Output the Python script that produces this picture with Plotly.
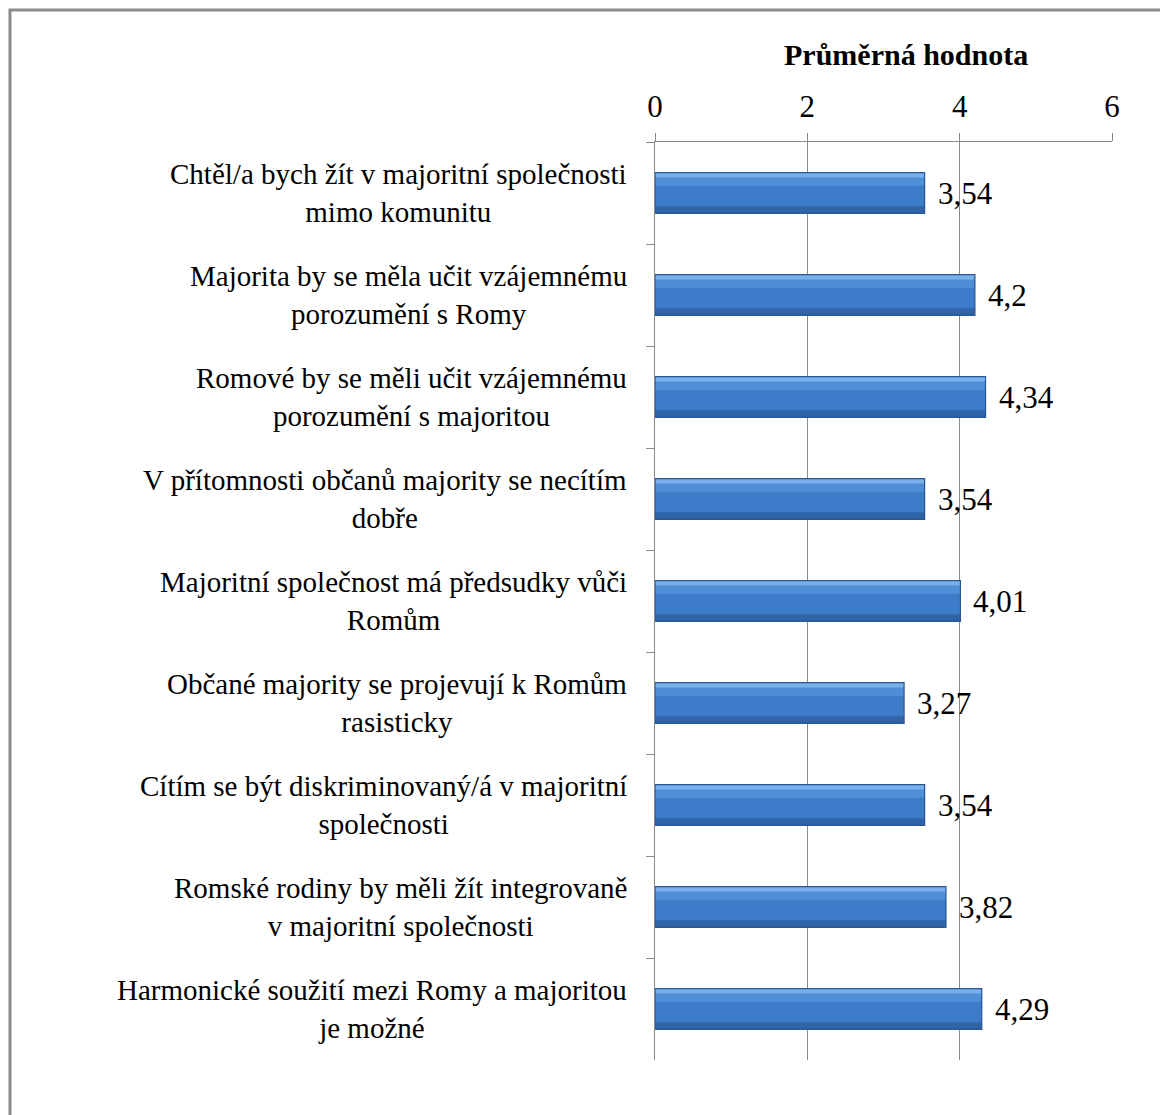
import plotly.graph_objects as go

categories = [
    "Chtěl/a bych žít v majoritní společnosti<br>mimo komunitu",
    "Majorita by se měla učit vzájemnému<br>porozumění s Romy",
    "Romové by se měli učit vzájemnému<br>porozumění s majoritou",
    "V přítomnosti občanů majority se necítím<br>dobře",
    "Majoritní společnost má předsudky vůči<br>Romům",
    "Občané majority se projevují k Romům<br>rasisticky",
    "Cítím se být diskriminovaný/á v majoritní<br>společnosti",
    "Romské rodiny by měli žít integrovaně<br>v majoritní společnosti",
    "Harmonické soužití mezi Romy a majoritou<br>je možné",
]
values = [3.54, 4.2, 4.34, 3.54, 4.01, 3.27, 3.54, 3.82, 4.29]
x_ticks = [0, 2, 4, 6]
title_text = "Průměrná hodnota"

FONT = "Liberation Serif, Times New Roman, serif"
OFF = 8  # page body margin
W, H = 1168 - OFF, 1115 - OFF
L, R, T, B = 655 - OFF, 1112 - OFF, 142 - OFF, 1060 - OFF


def px_x(p):
    return (p - OFF - L) / (R - L)


def px_y(p):
    return (B - (p - OFF)) / (B - T)


fig = go.Figure()
fig.add_trace(go.Bar(x=values, y=categories, orientation="h", width=0.4,
                     marker=dict(color="#3d7cc8", line=dict(width=0)),
                     hoverinfo="skip", showlegend=False))
fig.add_trace(go.Bar(x=values, y=categories, orientation="h", width=0.05, offset=-0.2,
                     marker=dict(color="#79b0ec", line=dict(width=0)),
                     hoverinfo="skip", showlegend=False))
fig.add_trace(go.Bar(x=values, y=categories, orientation="h", width=0.08, offset=-0.15,
                     marker=dict(color="#4f8fd8", line=dict(width=0)),
                     hoverinfo="skip", showlegend=False))
fig.add_trace(go.Bar(x=values, y=categories, orientation="h", width=0.07, offset=0.13,
                     marker=dict(color="#2f64a8", line=dict(width=0)),
                     hoverinfo="skip", showlegend=False))
fig.add_trace(go.Bar(x=values, y=categories, orientation="h", width=0.4,
                     marker=dict(color="rgba(0,0,0,0)", line=dict(color="#2a558e", width=1.2)),
                     showlegend=False))

annotations = []
for c, v in zip(categories, values):
    annotations.append(dict(x=0, y=c, xref="x", yref="y", text=c, showarrow=False,
                            xanchor="right", yanchor="middle", align="center",
                            xshift=-26, yshift=0,
                            font=dict(family=FONT, size=29, color="#000000")))
    annotations.append(dict(x=v, y=c, xref="x", yref="y", text=str(v).replace(".", ","),
                            showarrow=False, xanchor="left", yanchor="middle", xshift=11,
                            font=dict(family=FONT, size=31, color="#000000")))
annotations.append(dict(x=px_x(906), y=px_y(55), xref="paper", yref="paper",
                        text="<b>" + title_text + "</b>", showarrow=False,
                        xanchor="center", yanchor="middle",
                        font=dict(family=FONT, size=30, color="#000000")))

fig.update_layout(
    width=W, height=H,
    margin=dict(l=L, r=W - R, t=T, b=H - B, pad=0),
    paper_bgcolor="white", plot_bgcolor="white",
    barmode="overlay",
    annotations=annotations,
    shapes=[dict(type="rect", xref="paper", yref="paper",
                 x0=px_x(10), x1=px_x(1190),
                 y0=px_y(1140), y1=px_y(10),
                 line=dict(color="#8c8c8c", width=3), fillcolor="rgba(0,0,0,0)", layer="below")],
    xaxis=dict(side="top", range=[0, 6], tickvals=x_ticks, ticktext=[str(t) for t in x_ticks],
               showgrid=True, gridcolor="#8a8a8a", gridwidth=1, zeroline=False,
               showline=True, linecolor="#8a8a8a", linewidth=1,
               ticks="outside", ticklen=8, tickcolor="#8a8a8a",
               ticklabelstandoff=4,
               tickfont=dict(family=FONT, size=31, color="#000000"), fixedrange=True),
    yaxis=dict(autorange="reversed", type="category", showticklabels=False,
               showline=True, linecolor="#8a8a8a", linewidth=1,
               ticks="outside", ticklen=8, tickcolor="#8a8a8a", tickson="boundaries",
               showgrid=False, fixedrange=True),
)

fig.write_html("out.html")
